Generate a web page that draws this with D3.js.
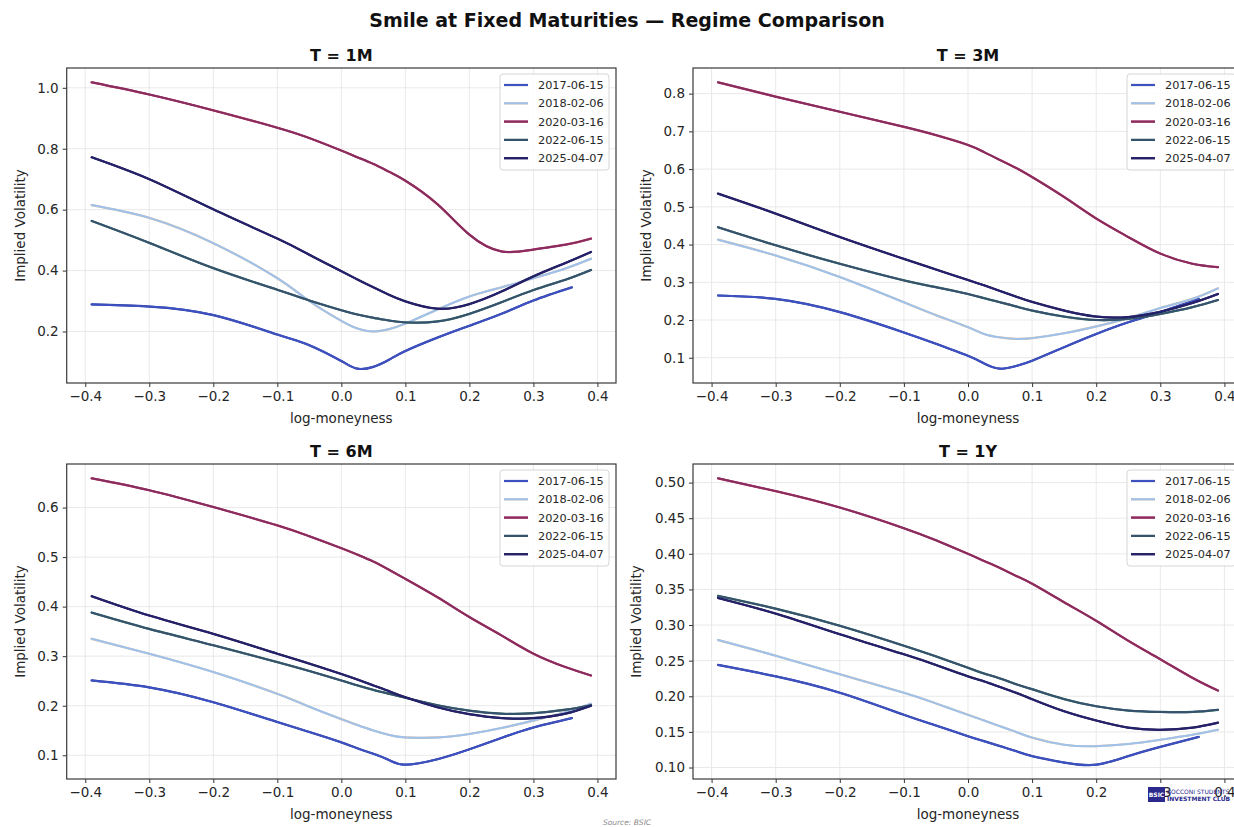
<!DOCTYPE html>
<html>
<head>
<meta charset="utf-8">
<script src="https://cdn.jsdelivr.net/npm/d3@7"></script>
<style>
  html, body { margin: 0; padding: 0; background: #fff; overflow: hidden; }
  svg { display: block; font-family: "DejaVu Sans", sans-serif; }
</style>
</head>
<body>
<svg id="chart" width="1234" height="827"></svg>
<script>
// ---------------- DATA ----------------
const dates = ["2017-06-15", "2018-02-06", "2020-03-16", "2022-06-15", "2025-04-07"];
const maturities = ["1M", "3M", "6M", "1Y"];

// log-moneyness grids
const kFull  = [-0.39, -0.3, -0.2, -0.1, -0.05, 0, 0.025, 0.05, 0.075, 0.1, 0.15, 0.2, 0.25, 0.3, 0.35, 0.39];
const kShort = [-0.39, -0.3, -0.2, -0.1, -0.05, 0, 0.025, 0.05, 0.075, 0.1, 0.15, 0.2, 0.25, 0.3, 0.36];

// T = 1M
const iv1M_2017 = [0.289, 0.282, 0.254, 0.190, 0.155, 0.103, 0.078, 0.084, 0.108, 0.136, 0.180, 0.219, 0.258, 0.302, 0.345];
const iv1M_2018 = [0.615, 0.573, 0.490, 0.375, 0.300, 0.235, 0.210, 0.200, 0.208, 0.226, 0.272, 0.315, 0.345, 0.375, 0.407, 0.439];
const iv1M_2020 = [1.018, 0.978, 0.926, 0.869, 0.835, 0.794, 0.772, 0.750, 0.724, 0.695, 0.618, 0.518, 0.463, 0.469, 0.485, 0.505];
const iv1M_2022 = [0.563, 0.491, 0.408, 0.337, 0.302, 0.270, 0.256, 0.245, 0.236, 0.230, 0.233, 0.258, 0.296, 0.336, 0.370, 0.402];
const iv1M_2025 = [0.772, 0.700, 0.601, 0.505, 0.452, 0.398, 0.371, 0.345, 0.320, 0.299, 0.275, 0.290, 0.331, 0.381, 0.425, 0.461];

// T = 3M
const iv3M_2017 = [0.265, 0.256, 0.221, 0.167, 0.137, 0.105, 0.085, 0.071, 0.078, 0.092, 0.128, 0.163, 0.194, 0.221, 0.256];
const iv3M_2018 = [0.413, 0.371, 0.314, 0.247, 0.213, 0.181, 0.163, 0.154, 0.150, 0.152, 0.165, 0.183, 0.205, 0.232, 0.256, 0.284];
const iv3M_2020 = [0.830, 0.792, 0.752, 0.712, 0.690, 0.664, 0.645, 0.624, 0.603, 0.579, 0.526, 0.469, 0.420, 0.376, 0.349, 0.340];
const iv3M_2022 = [0.446, 0.398, 0.349, 0.305, 0.287, 0.269, 0.258, 0.247, 0.236, 0.225, 0.209, 0.200, 0.203, 0.216, 0.234, 0.253];
const iv3M_2025 = [0.535, 0.482, 0.420, 0.362, 0.334, 0.306, 0.292, 0.277, 0.262, 0.248, 0.225, 0.209, 0.208, 0.222, 0.245, 0.269];

// T = 6M
const iv6M_2017 = [0.251, 0.237, 0.207, 0.167, 0.147, 0.126, 0.114, 0.103, 0.090, 0.081, 0.092, 0.112, 0.135, 0.156, 0.175];
const iv6M_2018 = [0.335, 0.305, 0.268, 0.224, 0.198, 0.173, 0.161, 0.150, 0.141, 0.136, 0.136, 0.143, 0.155, 0.170, 0.187, 0.204];
const iv6M_2020 = [0.659, 0.635, 0.601, 0.564, 0.542, 0.518, 0.505, 0.491, 0.474, 0.456, 0.419, 0.379, 0.342, 0.305, 0.278, 0.261];
const iv6M_2022 = [0.388, 0.355, 0.322, 0.288, 0.270, 0.251, 0.241, 0.232, 0.224, 0.216, 0.201, 0.190, 0.184, 0.185, 0.192, 0.201];
const iv6M_2025 = [0.421, 0.382, 0.345, 0.305, 0.285, 0.264, 0.253, 0.241, 0.229, 0.217, 0.197, 0.183, 0.175, 0.175, 0.184, 0.200];

// T = 1Y
const iv1Y_2017 = [0.244, 0.228, 0.205, 0.174, 0.159, 0.144, 0.137, 0.130, 0.123, 0.116, 0.107, 0.104, 0.116, 0.129, 0.143];
const iv1Y_2018 = [0.279, 0.257, 0.231, 0.205, 0.190, 0.174, 0.166, 0.158, 0.150, 0.142, 0.132, 0.130, 0.133, 0.139, 0.146, 0.153];
const iv1Y_2020 = [0.506, 0.488, 0.465, 0.436, 0.419, 0.400, 0.390, 0.380, 0.369, 0.358, 0.332, 0.306, 0.278, 0.252, 0.226, 0.208];
const iv1Y_2022 = [0.341, 0.323, 0.299, 0.271, 0.256, 0.240, 0.232, 0.225, 0.217, 0.210, 0.196, 0.186, 0.180, 0.178, 0.178, 0.181];
const iv1Y_2025 = [0.338, 0.316, 0.287, 0.259, 0.244, 0.228, 0.221, 0.213, 0.205, 0.196, 0.179, 0.166, 0.156, 0.153, 0.156, 0.163];

const xTicks = [-0.4, -0.3, -0.2, -0.1, 0.0, 0.1, 0.2, 0.3, 0.4];
const yTicks1M = [0.2, 0.4, 0.6, 0.8, 1.0];
const yTicks3M = [0.1, 0.2, 0.3, 0.4, 0.5, 0.6, 0.7, 0.8];
const yTicks6M = [0.1, 0.2, 0.3, 0.4, 0.5, 0.6];
const yTicks1Y = [0.10, 0.15, 0.20, 0.25, 0.30, 0.35, 0.40, 0.45, 0.50];

// ---------------- STYLE ----------------
const mainColors  = ["#3d51c0", "#9ec2ec", "#892c62", "#37526f", "#25216b"];
const underColors = ["#2c3a9c", "#e0c0a0", "#b0304e", "#2e6a5c", "#1b1a52"];

const panels = [
  { title: "T = 1M", series: [iv1M_2017, iv1M_2018, iv1M_2020, iv1M_2022, iv1M_2025], yTicks: yTicks1M, fmt: ".1f",
    box: { l: 66.7, r: 616, t: 68, b: 383 } },
  { title: "T = 3M", series: [iv3M_2017, iv3M_2018, iv3M_2020, iv3M_2022, iv3M_2025], yTicks: yTicks3M, fmt: ".1f",
    box: { l: 693, r: 1243, t: 68, b: 383 } },
  { title: "T = 6M", series: [iv6M_2017, iv6M_2018, iv6M_2020, iv6M_2022, iv6M_2025], yTicks: yTicks6M, fmt: ".1f",
    box: { l: 66.7, r: 616, t: 464, b: 779 } },
  { title: "T = 1Y", series: [iv1Y_2017, iv1Y_2018, iv1Y_2020, iv1Y_2022, iv1Y_2025], yTicks: yTicks1Y, fmt: ".2f",
    box: { l: 693, r: 1243, t: 464, b: 779 } }
];

const svg = d3.select("#chart");
const TXT = "#262626";

svg.append("text")
  .attr("x", 627).attr("y", 27)
  .attr("text-anchor", "middle")
  .style("font-size", "19px").style("font-weight", "bold").style("fill", "#111")
  .text("Smile at Fixed Maturities — Regime Comparison");

panels.forEach((p, pi) => {
  const { l, r, t, b } = p.box;
  const allVals = p.series.flat();
  const xs = [...kFull, ...kShort];
  const xmin = d3.min(xs), xmax = d3.max(xs);
  const ymin = d3.min(allVals), ymax = d3.max(allVals);
  const xpad = (xmax - xmin) * 0.05, ypad = (ymax - ymin) * 0.05;

  const x = d3.scaleLinear().domain([xmin - xpad, xmax + xpad]).range([l, r]);
  const y = d3.scaleLinear().domain([ymin - ypad, ymax + ypad]).range([b, t]);

  const g = svg.append("g");

  // grid
  g.append("g").selectAll("line").data(xTicks).join("line")
    .attr("x1", d => x(d)).attr("x2", d => x(d)).attr("y1", t).attr("y2", b)
    .attr("stroke", "#e6e6e6").attr("stroke-width", 0.9);
  g.append("g").selectAll("line").data(p.yTicks).join("line")
    .attr("y1", d => y(d)).attr("y2", d => y(d)).attr("x1", l).attr("x2", r)
    .attr("stroke", "#e6e6e6").attr("stroke-width", 0.9);

  // lines
  const clipId = "clip" + pi;
  svg.append("clipPath").attr("id", clipId).append("rect")
    .attr("x", l).attr("y", t).attr("width", r - l).attr("height", b - t);

  const line = d3.line().x(d => x(d[0])).y(d => y(d[1])).curve(d3.curveNatural);
  const lg = g.append("g").attr("clip-path", `url(#${clipId})`);
  p.series.forEach((vals, si) => {
    const grid = vals.length === kShort.length ? kShort : kFull;
    const pts = vals.map((v, i) => [grid[i], v]);
    lg.append("path").datum(pts).attr("d", line)
      .attr("fill", "none").attr("stroke", underColors[si]).attr("stroke-width", 2.2)
      .attr("stroke-linecap", "round");
    lg.append("path").datum(pts).attr("d", line)
      .attr("fill", "none").attr("stroke", mainColors[si]).attr("stroke-width", 2.0)
      .attr("stroke-linecap", "round");
  });

  // axes
  const xAxis = d3.axisBottom(x).tickValues(xTicks).tickFormat(d3.format(".1f")).tickSize(4).tickPadding(4);
  const yAxis = d3.axisLeft(y).tickValues(p.yTicks).tickFormat(d3.format(p.fmt)).tickSize(4).tickPadding(4);
  const gx = g.append("g").attr("transform", `translate(0,${b})`).call(xAxis);
  const gy = g.append("g").attr("transform", `translate(${l},0)`).call(yAxis);
  [gx, gy].forEach(ax => {
    ax.select(".domain").remove();
    ax.selectAll(".tick line").attr("stroke", "#333").attr("stroke-width", 1);
    ax.selectAll(".tick text").style("font-size", "13.5px").style("fill", TXT)
      .style("font-family", "DejaVu Sans, sans-serif");
  });

  // frame
  g.append("rect").attr("x", l).attr("y", t).attr("width", r - l).attr("height", b - t)
    .attr("fill", "none").attr("stroke", "#3a3a3a").attr("stroke-width", 1.2);

  // labels
  g.append("text").attr("x", (l + r) / 2).attr("y", t - 7).attr("text-anchor", "middle")
    .style("font-size", "16px").style("font-weight", "bold").style("fill", "#111").text(p.title);
  g.append("text").attr("x", (l + r) / 2).attr("y", b + 40).attr("text-anchor", "middle")
    .style("font-size", "13.5px").style("fill", TXT).text("log-moneyness");
  const ylx = l - (p.fmt === ".2f" ? 52 : 42);
  g.append("text").attr("transform", `translate(${ylx},${(t + b) / 2}) rotate(-90)`)
    .attr("text-anchor", "middle")
    .style("font-size", "13.5px").style("fill", TXT).text("Implied Volatility");

  // legend
  const lgX = r - 116, lgY = t + 6;
  const leg = g.append("g").attr("transform", `translate(${lgX},${lgY})`);
  leg.append("rect").attr("x", 0).attr("y", 0).attr("width", 109).attr("height", 96)
    .attr("rx", 3).attr("fill", "#fff").attr("fill-opacity", 0.85)
    .attr("stroke", "#d6d6d6").attr("stroke-width", 1);
  dates.forEach((dt, i) => {
    const yy = 11 + i * 18.3;
    leg.append("line").attr("x1", 4).attr("x2", 28).attr("y1", yy).attr("y2", yy)
      .attr("stroke", underColors[i]).attr("stroke-width", 2.2);
    leg.append("line").attr("x1", 4).attr("x2", 28).attr("y1", yy).attr("y2", yy)
      .attr("stroke", mainColors[i]).attr("stroke-width", 2.0);
    leg.append("text").attr("x", 38).attr("y", yy + 4)
      .style("font-size", "11.3px").style("fill", TXT).text(dt);
  });
});

// source
svg.append("text").attr("x", 627).attr("y", 825).attr("text-anchor", "middle")
  .style("font-size", "7.5px").style("font-style", "italic").style("fill", "#8a8a8a")
  .text("Source: BSIC");

// logo
const logo = svg.append("g").attr("transform", "translate(1148,787)");
logo.append("rect").attr("x", 0).attr("y", 0).attr("width", 17).attr("height", 15).attr("fill", "#2b2a8c");
logo.append("text").attr("x", 8.5).attr("y", 9.5).attr("text-anchor", "middle")
  .style("font-size", "6px").style("font-weight", "bold").style("fill", "#fff").text("BSIC");
logo.append("text").attr("x", 19).attr("y", 6.5)
  .style("font-size", "6px").style("fill", "#2b2a8c").text("BOCCONI STUDENTS");
logo.append("text").attr("x", 19).attr("y", 13.5)
  .style("font-size", "6px").style("font-weight", "bold").style("fill", "#2b2a8c").text("INVESTMENT CLUB");
</script>
</body>
</html>
